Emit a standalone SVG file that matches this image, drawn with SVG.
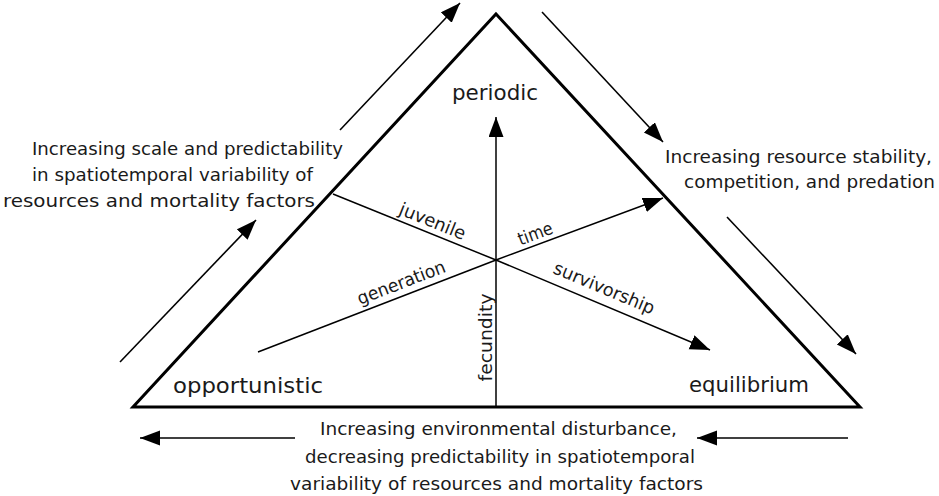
<svg xmlns="http://www.w3.org/2000/svg" width="939" height="496" viewBox="0 0 939 496">
  <style>
    .t { font-family: "DejaVu Sans", "Liberation Sans", sans-serif; fill: #1a1a1a; }
    .side { font-size: 18px; }
    .corner { font-size: 22px; }
    .axis { font-size: 18px; }
    .tri { fill: none; stroke: #000; stroke-width: 3; stroke-linejoin: miter; }
    .arr { fill: none; stroke: #000; stroke-width: 1.6; marker-end: url(#ah); }
    .ax { fill: none; stroke: #000; stroke-width: 1.5; }
    .axa { fill: none; stroke: #000; stroke-width: 1.5; marker-end: url(#ah); }
  </style>
  <defs>
    <marker id="ah" markerUnits="userSpaceOnUse" markerWidth="22" markerHeight="18" refX="20" refY="7.5" orient="auto">
      <path d="M0,0 L20,7.5 L0,15 Z" fill="#000"/>
    </marker>
  </defs>
  <rect width="939" height="496" fill="#fff"/>

  <g id="triangle">
    <path class="tri" d="M496,14 L860,407 L133,407 Z"/>
  </g>

  <g id="connectors">
    <line class="arr" x1="340" y1="130" x2="460" y2="3"/>
    <line class="arr" x1="120" y1="362" x2="256" y2="220"/>
    <line class="arr" x1="542" y1="12" x2="663" y2="142"/>
    <line class="arr" x1="727" y1="217" x2="856" y2="354"/>
    <line class="arr" x1="295" y1="438" x2="140" y2="438"/>
    <line class="arr" x1="848" y1="438" x2="697" y2="438"/>
    <line class="axa" x1="496" y1="407" x2="496" y2="117"/>
    <line class="ax" x1="496" y1="260" x2="333" y2="194"/>
    <line class="ax" x1="496" y1="260" x2="258" y2="352"/>
    <line class="axa" x1="496" y1="260" x2="663" y2="198"/>
    <line class="axa" x1="496" y1="260" x2="710" y2="350"/>
  </g>

  <g id="periodic">
    <text class="t corner" x="452" y="100" textLength="86" lengthAdjust="spacingAndGlyphs">periodic</text>
  </g>
  <g id="opportunistic">
    <text class="t corner" x="173" y="393" textLength="150" lengthAdjust="spacingAndGlyphs">opportunistic</text>
  </g>
  <g id="equilibrium">
    <text class="t corner" x="689" y="392" textLength="120" lengthAdjust="spacingAndGlyphs">equilibrium</text>
  </g>

  <g id="left-label">
    <text class="t side" x="32" y="155" textLength="311" lengthAdjust="spacingAndGlyphs">Increasing scale and predictability</text>
    <text class="t side" x="32" y="181" textLength="281" lengthAdjust="spacingAndGlyphs">in spatiotemporal variability of</text>
    <text class="t side" x="3" y="207" textLength="312" lengthAdjust="spacingAndGlyphs">resources and mortality factors</text>
  </g>

  <g id="right-label">
    <text class="t side" x="665" y="163" textLength="267" lengthAdjust="spacingAndGlyphs">Increasing resource stability,</text>
    <text class="t side" x="684" y="188" textLength="251" lengthAdjust="spacingAndGlyphs">competition, and predation</text>
  </g>

  <g id="bottom-label">
    <text class="t side" x="320" y="435" textLength="357" lengthAdjust="spacingAndGlyphs">Increasing environmental disturbance,</text>
    <text class="t side" x="305" y="463" textLength="390" lengthAdjust="spacingAndGlyphs">decreasing predictability in spatiotemporal</text>
    <text class="t side" x="290" y="490" textLength="413" lengthAdjust="spacingAndGlyphs">variability of resources and mortality factors</text>
  </g>

  <g id="axis-labels">
    <g transform="translate(428,232.5) rotate(22.04)">
      <text class="t axis" x="0" y="-6" text-anchor="middle" textLength="70" lengthAdjust="spacingAndGlyphs">juvenile</text>
    </g>
    <g transform="translate(539,244) rotate(-20.37)">
      <text class="t axis" x="0" y="-5" text-anchor="middle" textLength="36" lengthAdjust="spacingAndGlyphs">time</text>
    </g>
    <g transform="translate(406,294.8) rotate(-21.13)">
      <text class="t axis" x="0" y="-7" text-anchor="middle" textLength="93" lengthAdjust="spacingAndGlyphs">generation</text>
    </g>
    <g transform="translate(598,302.9) rotate(22.81)">
      <text class="t axis" x="0" y="-10" text-anchor="middle" textLength="108" lengthAdjust="spacingAndGlyphs">survivorship</text>
    </g>
    <g transform="translate(492,337.5) rotate(-90)">
      <text class="t axis" x="0" y="0" text-anchor="middle" textLength="88" lengthAdjust="spacingAndGlyphs">fecundity</text>
    </g>
  </g>
</svg>
